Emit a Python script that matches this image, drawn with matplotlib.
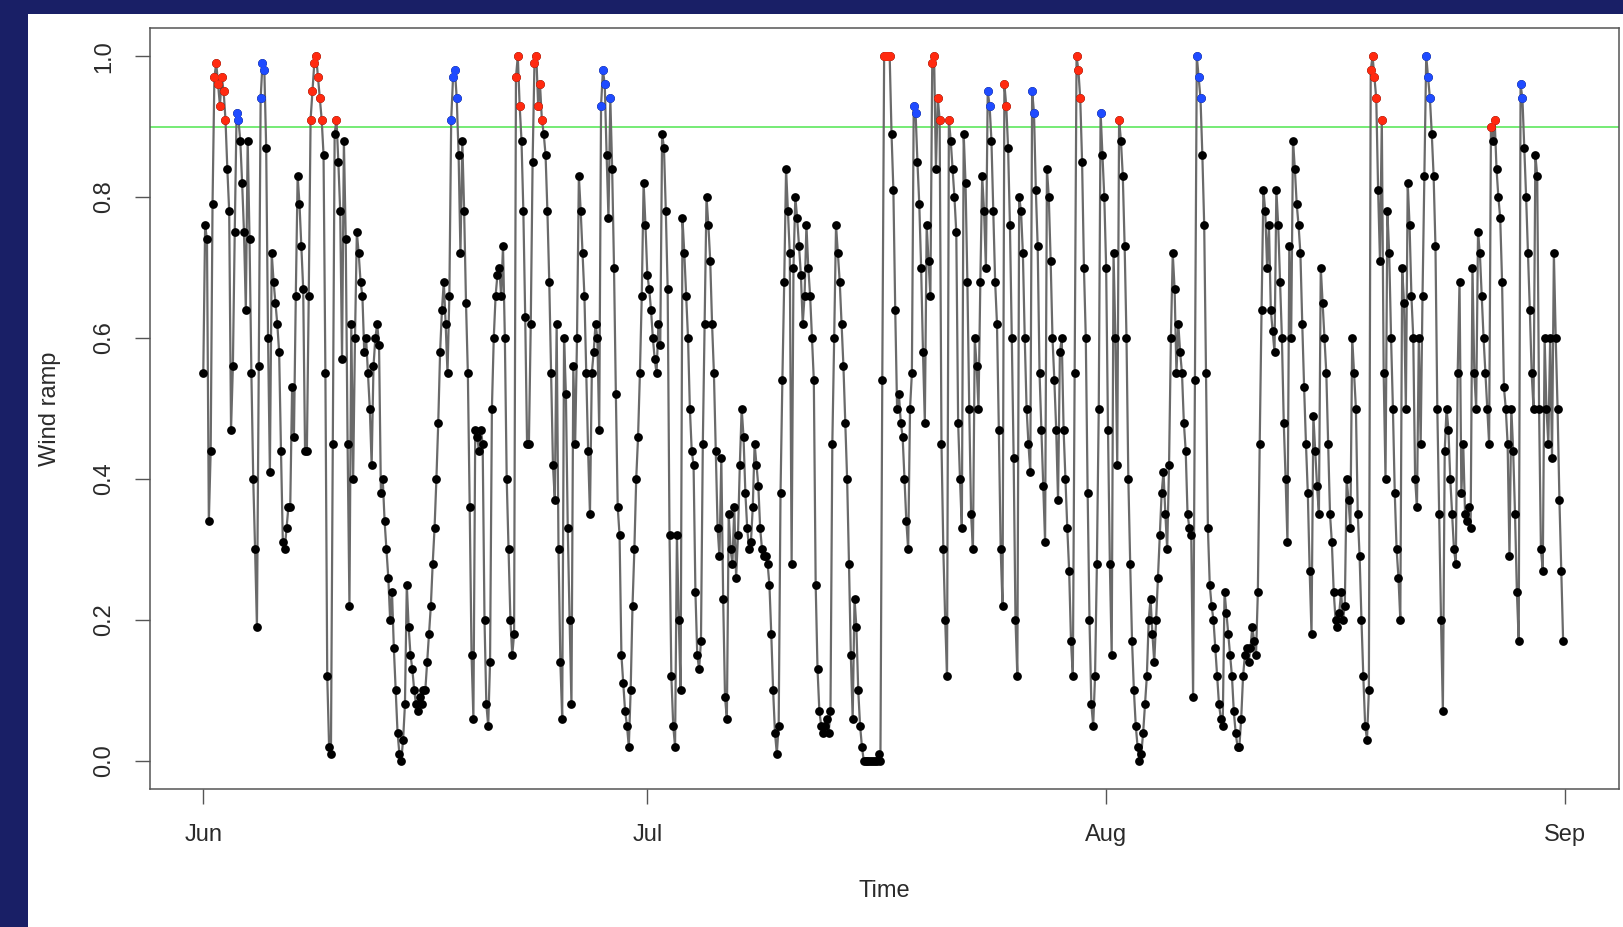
import numpy as np
import matplotlib
matplotlib.use("Agg")
import matplotlib.pyplot as plt

# ---------------- data (3-hourly wind ramp values, Jun 1 .. Aug 31) ----------------
steps_per_day = 8
wind_ramp = [
    0.55, 0.76, 0.74, 0.34, 0.44, 0.79, 0.97, 0.99,
    0.96, 0.93, 0.97, 0.95, 0.91, 0.84, 0.78, 0.47,
    0.56, 0.75, 0.92, 0.91, 0.88, 0.82, 0.75, 0.64,
    0.88, 0.74, 0.55, 0.40, 0.30, 0.19, 0.56, 0.94,
    0.99, 0.98, 0.87, 0.60, 0.41, 0.72, 0.68, 0.65,
    0.62, 0.58, 0.44, 0.31, 0.30, 0.33, 0.36, 0.36,
    0.53, 0.46, 0.66, 0.83, 0.79, 0.73, 0.67, 0.44,
    0.44, 0.66, 0.91, 0.95, 0.99, 1.00, 0.97, 0.94,
    0.91, 0.86, 0.55, 0.12, 0.02, 0.01, 0.45, 0.89,
    0.91, 0.85, 0.78, 0.57, 0.88, 0.74, 0.45, 0.22,
    0.62, 0.40, 0.60, 0.75, 0.72, 0.68, 0.66, 0.58,
    0.60, 0.55, 0.50, 0.42, 0.56, 0.60, 0.62, 0.59,
    0.38, 0.40, 0.34, 0.30, 0.26, 0.20, 0.24, 0.16,
    0.10, 0.04, 0.01, 0.00, 0.03, 0.08, 0.25, 0.19,
    0.15, 0.13, 0.10, 0.08, 0.07, 0.09, 0.08, 0.10,
    0.10, 0.14, 0.18, 0.22, 0.28, 0.33, 0.40, 0.48,
    0.58, 0.64, 0.68, 0.62, 0.55, 0.66, 0.91, 0.97,
    0.98, 0.94, 0.86, 0.72, 0.88, 0.78, 0.65, 0.55,
    0.36, 0.15, 0.06, 0.47, 0.46, 0.44, 0.47, 0.45,
    0.20, 0.08, 0.05, 0.14, 0.50, 0.60, 0.66, 0.69,
    0.70, 0.66, 0.73, 0.60, 0.40, 0.30, 0.20, 0.15,
    0.18, 0.97, 1.00, 0.93, 0.88, 0.78, 0.63, 0.45,
    0.45, 0.62, 0.85, 0.99, 1.00, 0.93, 0.96, 0.91,
    0.89, 0.86, 0.78, 0.68, 0.55, 0.42, 0.37, 0.62,
    0.30, 0.14, 0.06, 0.60, 0.52, 0.33, 0.20, 0.08,
    0.56, 0.45, 0.60, 0.83, 0.78, 0.72, 0.66, 0.55,
    0.44, 0.35, 0.55, 0.58, 0.62, 0.60, 0.47, 0.93,
    0.98, 0.96, 0.86, 0.77, 0.94, 0.84, 0.70, 0.52,
    0.36, 0.32, 0.15, 0.11, 0.07, 0.05, 0.02, 0.10,
    0.22, 0.30, 0.40, 0.46, 0.55, 0.66, 0.82, 0.76,
    0.69, 0.67, 0.64, 0.60, 0.57, 0.55, 0.62, 0.59,
    0.89, 0.87, 0.78, 0.67, 0.32, 0.12, 0.05, 0.02,
    0.32, 0.20, 0.10, 0.77, 0.72, 0.66, 0.60, 0.50,
    0.44, 0.42, 0.24, 0.15, 0.13, 0.17, 0.45, 0.62,
    0.80, 0.76, 0.71, 0.62, 0.55, 0.44, 0.33, 0.29,
    0.43, 0.23, 0.09, 0.06, 0.35, 0.30, 0.28, 0.36,
    0.26, 0.32, 0.42, 0.50, 0.46, 0.38, 0.33, 0.30,
    0.31, 0.36, 0.45, 0.42, 0.39, 0.33, 0.30, 0.29,
    0.29, 0.28, 0.25, 0.18, 0.10, 0.04, 0.01, 0.05,
    0.38, 0.54, 0.68, 0.84, 0.78, 0.72, 0.28, 0.70,
    0.80, 0.77, 0.73, 0.69, 0.62, 0.66, 0.76, 0.70,
    0.66, 0.60, 0.54, 0.25, 0.13, 0.07, 0.05, 0.04,
    0.05, 0.06, 0.04, 0.07, 0.45, 0.60, 0.76, 0.72,
    0.68, 0.62, 0.56, 0.48, 0.40, 0.28, 0.15, 0.06,
    0.23, 0.19, 0.10, 0.05, 0.02, 0.00, 0.00, 0.00,
    0.00, 0.00, 0.00, 0.00, 0.00, 0.01, 0.00, 0.54,
    1.00, 1.00, 1.00, 1.00, 0.89, 0.81, 0.64, 0.50,
    0.52, 0.48, 0.46, 0.40, 0.34, 0.30, 0.50, 0.55,
    0.93, 0.92, 0.85, 0.79, 0.70, 0.58, 0.48, 0.76,
    0.71, 0.66, 0.99, 1.00, 0.84, 0.94, 0.91, 0.45,
    0.30, 0.20, 0.12, 0.91, 0.88, 0.84, 0.80, 0.75,
    0.48, 0.40, 0.33, 0.89, 0.82, 0.68, 0.50, 0.35,
    0.30, 0.60, 0.56, 0.50, 0.68, 0.83, 0.78, 0.70,
    0.95, 0.93, 0.88, 0.78, 0.68, 0.62, 0.47, 0.30,
    0.22, 0.96, 0.93, 0.87, 0.76, 0.60, 0.43, 0.20,
    0.12, 0.80, 0.78, 0.72, 0.60, 0.50, 0.45, 0.41,
    0.95, 0.92, 0.81, 0.73, 0.55, 0.47, 0.39, 0.31,
    0.84, 0.80, 0.71, 0.60, 0.54, 0.47, 0.37, 0.58,
    0.60, 0.47, 0.40, 0.33, 0.27, 0.17, 0.12, 0.55,
    1.00, 0.98, 0.94, 0.85, 0.70, 0.60, 0.38, 0.20,
    0.08, 0.05, 0.12, 0.28, 0.50, 0.92, 0.86, 0.80,
    0.70, 0.47, 0.28, 0.15, 0.72, 0.60, 0.42, 0.91,
    0.88, 0.83, 0.73, 0.60, 0.40, 0.28, 0.17, 0.10,
    0.05, 0.02, 0.00, 0.01, 0.04, 0.08, 0.12, 0.20,
    0.23, 0.18, 0.14, 0.20, 0.26, 0.32, 0.38, 0.41,
    0.35, 0.30, 0.42, 0.60, 0.72, 0.67, 0.55, 0.62,
    0.58, 0.55, 0.48, 0.44, 0.35, 0.33, 0.32, 0.09,
    0.54, 1.00, 0.97, 0.94, 0.86, 0.76, 0.55, 0.33,
    0.25, 0.22, 0.20, 0.16, 0.12, 0.08, 0.06, 0.05,
    0.24, 0.21, 0.18, 0.15, 0.12, 0.07, 0.04, 0.02,
    0.02, 0.06, 0.12, 0.15, 0.16, 0.14, 0.16, 0.19,
    0.17, 0.15, 0.24, 0.45, 0.64, 0.81, 0.78, 0.70,
    0.76, 0.64, 0.61, 0.58, 0.81, 0.76, 0.68, 0.60,
    0.48, 0.40, 0.31, 0.73, 0.60, 0.88, 0.84, 0.79,
    0.76, 0.72, 0.62, 0.53, 0.45, 0.38, 0.27, 0.18,
    0.49, 0.44, 0.39, 0.35, 0.70, 0.65, 0.60, 0.55,
    0.45, 0.35, 0.31, 0.24, 0.20, 0.19, 0.21, 0.24,
    0.20, 0.22, 0.40, 0.37, 0.33, 0.60, 0.55, 0.50,
    0.35, 0.29, 0.20, 0.12, 0.05, 0.03, 0.10, 0.98,
    1.00, 0.97, 0.94, 0.81, 0.71, 0.91, 0.55, 0.40,
    0.78, 0.72, 0.60, 0.50, 0.38, 0.30, 0.26, 0.20,
    0.70, 0.65, 0.50, 0.82, 0.76, 0.66, 0.60, 0.40,
    0.36, 0.60, 0.45, 0.66, 0.83, 1.00, 0.97, 0.94,
    0.89, 0.83, 0.73, 0.50, 0.35, 0.20, 0.07, 0.44,
    0.50, 0.47, 0.40, 0.35, 0.30, 0.28, 0.55, 0.68,
    0.38, 0.45, 0.35, 0.34, 0.36, 0.33, 0.70, 0.55,
    0.50, 0.75, 0.72, 0.66, 0.60, 0.55, 0.50, 0.45,
    0.90, 0.88, 0.91, 0.84, 0.80, 0.77, 0.68, 0.53,
    0.50, 0.45, 0.29, 0.50, 0.44, 0.35, 0.24, 0.17,
    0.96, 0.94, 0.87, 0.80, 0.72, 0.64, 0.55, 0.50,
    0.86, 0.83, 0.50, 0.30, 0.27, 0.60, 0.50, 0.45,
    0.60, 0.43, 0.72, 0.60, 0.50, 0.37, 0.27, 0.17,
]
# days (since Jun 1) whose high-ramp points are flagged red; other high points blue
red_event_days = [0, 1, 7, 8, 9, 21, 22, 45, 46, 49, 50, 54, 59, 61, 78, 79, 87]
threshold = 0.9
month_ticks = [0, 30, 61, 92]
month_labels = ["Jun", "Jul", "Aug", "Sep"]
y_ticks = [0.0, 0.2, 0.4, 0.6, 0.8, 1.0]

# ---------------- figure ----------------
plt.rcParams['font.family'] = ['Liberation Sans', 'DejaVu Sans']
W, H = 1624, 927
fig = plt.figure(figsize=(W / 100, H / 100), dpi=100)
navy = '#191f66'
fig.patch.set_facecolor(navy)

# white panel behind the plot (navy frame on left and top)
bg = fig.add_axes([28 / W, 0, 1 - 28 / W, 1 - 14 / H], zorder=-5)
bg.set_facecolor('white')
bg.set_xticks([])
bg.set_yticks([])
for s in bg.spines.values():
    s.set_visible(False)

ax = fig.add_axes([150 / W, 1 - 789 / H, (1619 - 150) / W, (789 - 28) / H], zorder=1)
ax.set_facecolor('white')

y = np.array(wind_ramp)
t = np.arange(len(y)) / steps_per_day
day = np.floor(t).astype(int)

ms = 6.3
ax.plot(t, y, color='#6a6a6a', lw=1.6, zorder=2)
ax.plot(t, y, 'o', color='black', ms=ms, mec='none', zorder=3)

high = y >= threshold
is_red = np.isin(day, red_event_days)
ax.plot(t[high & is_red], y[high & is_red], 'o', color='#ff2a10', ms=ms, mec='none', zorder=4)
ax.plot(t[high & ~is_red], y[high & ~is_red], 'o', color='#1f4bff', ms=ms, mec='none', zorder=4)

ax.axhline(threshold, color='#5ee85e', lw=1.2, zorder=1)

ax.set_xlim(-3.6, 95.65)
ax.set_ylim(-0.04, 1.04)

ax.set_xticks(month_ticks)
ax.set_xticklabels(month_labels)
ax.set_yticks(y_ticks)
ax.set_yticklabels([f"{v:.1f}" for v in y_ticks], rotation=90, va='center')

txt = '#2a2a2a'
ax.tick_params(axis='both', direction='out', length=11, width=1.0,
               color='#555555', labelsize=17, labelcolor=txt)
ax.tick_params(axis='y', pad=14)
ax.tick_params(axis='x', pad=14)
for s in ax.spines.values():
    s.set_color('#555555')
    s.set_linewidth(1.1)

ax.set_xlabel("Time", fontsize=17, color=txt, labelpad=25)
ax.set_ylabel("Wind ramp", fontsize=17, color=txt, labelpad=23.5)

fig.savefig("out.png", dpi=100, facecolor=fig.get_facecolor())
